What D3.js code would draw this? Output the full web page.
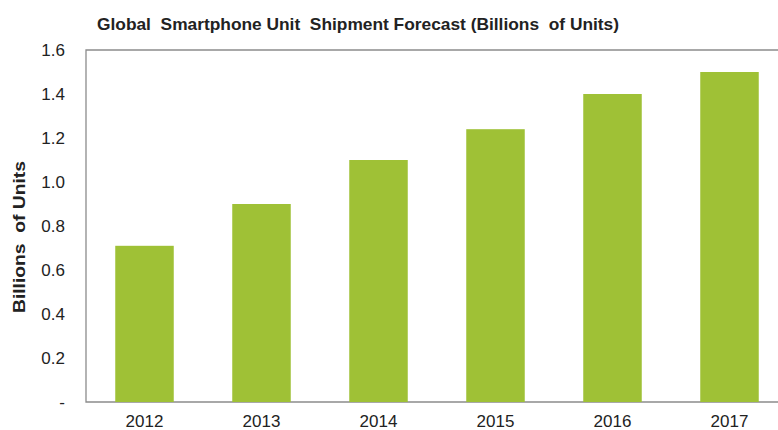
<!DOCTYPE html>
<html>
<head>
<meta charset="utf-8">
<script src="https://cdn.jsdelivr.net/npm/d3@7"></script>
<style>
  body { margin: 0; background: #fff; overflow: hidden; }
  text { font-family: "Liberation Sans", Arial, sans-serif; fill: #222; }
</style>
</head>
<body>
<script>
// shipment forecast, billions of units
var years = ["2012", "2013", "2014", "2015", "2016", "2017"];
var units = [0.71, 0.90, 1.10, 1.24, 1.40, 1.50];
var yTicks = [0, 0.2, 0.4, 0.6, 0.8, 1.0, 1.2, 1.4, 1.6];

var W = 778, H = 430;
var plot = {left: 86, top: 50, bottom: 402, right: 788};

var svg = d3.select("body").append("svg")
    .attr("width", W)
    .attr("height", H)
    .style("display", "block");

var x = d3.scaleBand()
    .domain(years)
    .range([plot.left, plot.right])
    .paddingInner(0.5)
    .paddingOuter(0.25);

var y = d3.scaleLinear()
    .domain([0, 1.6])
    .range([plot.bottom, plot.top]);

// plot frame: top, left and bottom only (right side runs off the picture)
svg.append("path")
    .attr("d", "M" + W + "," + y(1.6) + "H" + plot.left + "V" + y(0) + "H" + W)
    .style("fill", "none")
    .style("stroke", "#8c8c8c")
    .style("stroke-width", 1.3);

// bars
svg.selectAll("rect.bar")
    .data(units)
    .enter()
    .append("rect")
    .attr("class", "bar")
    .attr("x", function(d, i) { return x(years[i]); })
    .attr("y", function(d) { return y(d); })
    .attr("width", x.bandwidth())
    .attr("height", function(d) { return y(0) - y(d); })
    .style("fill", "#9fc136");

// y axis labels
var yAxis = d3.axisLeft(y)
    .tickValues(yTicks)
    .tickSize(0)
    .tickPadding(21)
    .tickFormat(function(d) { return d === 0 ? "-" : d3.format(".1f")(d); });

svg.append("g")
    .attr("transform", "translate(" + plot.left + ",0)")
    .call(yAxis)
    .call(function(g) { g.select(".domain").remove(); })
    .selectAll("text")
    .style("font-size", "17px")
    .style("fill", "#222")
    .style("font-family", "Liberation Sans, Arial, sans-serif");

// x axis labels
var xAxis = d3.axisBottom(x).tickSize(0).tickPadding(13);

svg.append("g")
    .attr("transform", "translate(0," + plot.bottom + ")")
    .call(xAxis)
    .call(function(g) { g.select(".domain").remove(); })
    .selectAll("text")
    .style("font-size", "17px")
    .style("fill", "#222")
    .style("font-family", "Liberation Sans, Arial, sans-serif");

// title
svg.append("text")
    .attr("x", 97)
    .attr("y", 30)
    .attr("textLength", 522)
    .attr("lengthAdjust", "spacingAndGlyphs")
    .style("font-size", "16.5px")
    .style("font-weight", "bold")
    .style("white-space", "pre")
    .text("Global  Smartphone Unit  Shipment Forecast (Billions  of Units)");

// y axis title
svg.append("text")
    .attr("transform", "translate(25,237) rotate(-90)")
    .attr("text-anchor", "middle")
    .attr("textLength", 152)
    .attr("lengthAdjust", "spacingAndGlyphs")
    .style("font-size", "16px")
    .style("font-weight", "bold")
    .style("white-space", "pre")
    .text("Billions  of Units");
</script>
</body>
</html>
